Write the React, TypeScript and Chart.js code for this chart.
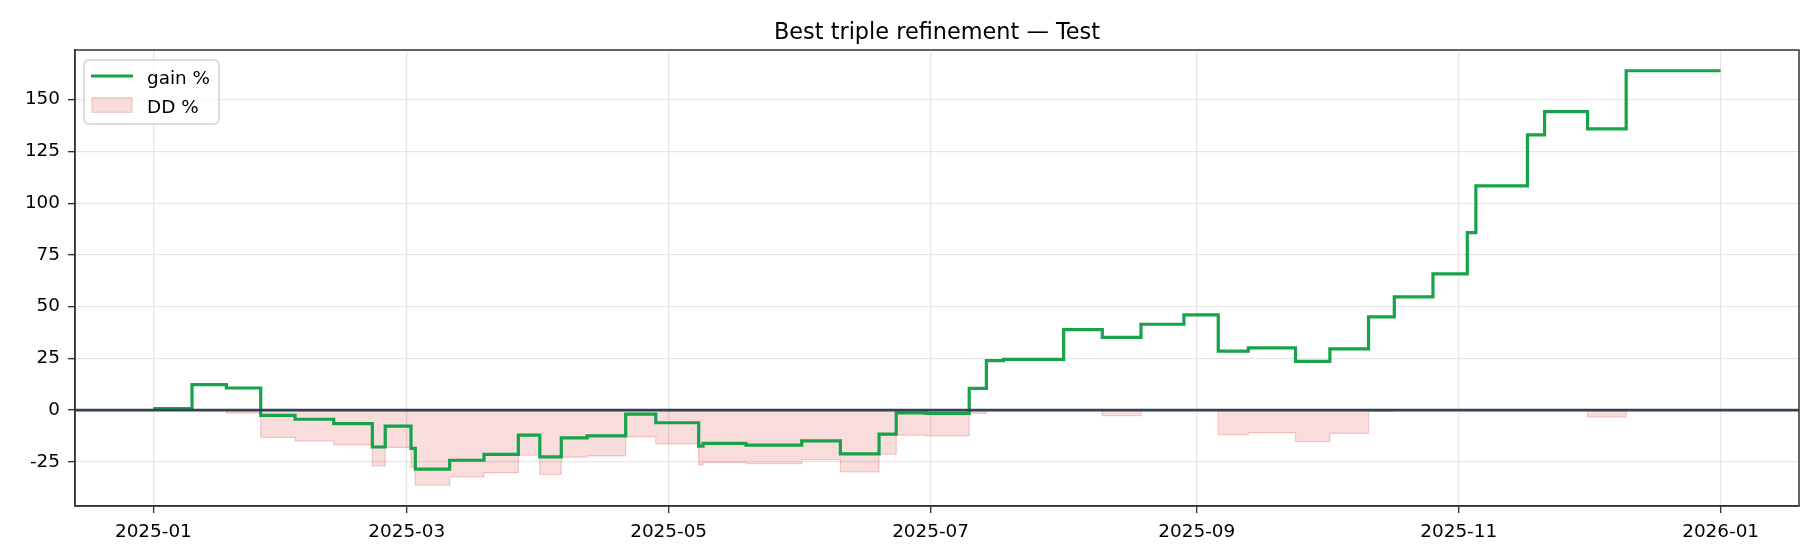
import React, { useEffect, useRef } from "react";
import { Chart, registerables } from "chart.js";

Chart.register(...registerables);

// step dates where gain / drawdown change (values hold until the next date)
const changeDates = [
  "2025-01-01", "2025-01-10", "2025-01-18", "2025-01-26", "2025-02-03", "2025-02-12",
  "2025-02-21", "2025-02-24", "2025-03-02", "2025-03-03", "2025-03-11", "2025-03-19",
  "2025-03-27", "2025-04-01", "2025-04-06", "2025-04-12", "2025-04-21", "2025-04-28",
  "2025-05-08", "2025-05-09", "2025-05-19", "2025-06-01", "2025-06-10", "2025-06-19",
  "2025-06-23", "2025-06-30", "2025-07-10", "2025-07-14", "2025-07-18", "2025-08-01",
  "2025-08-10", "2025-08-19", "2025-08-29", "2025-09-06", "2025-09-13", "2025-09-24",
  "2025-10-02", "2025-10-11", "2025-10-17", "2025-10-26", "2025-11-03", "2025-11-05",
  "2025-11-17", "2025-11-21", "2025-12-01", "2025-12-10", "2026-01-01",
];

const gainValues = [
  0.8, 12.3, 10.7, -2.5, -4.4, -6.5,
  -17.8, -7.7, -18.5, -28.5, -24.2, -21.4,
  -12.1, -22.6, -13.4, -12.4, -1.9, -6.1,
  -17.4, -16.1, -16.9, -14.8, -21.1, -11.6,
  -1.3, -1.6, 10.5, 23.9, 24.5, 38.9,
  35.2, 41.5, 46.0, 28.5, 30.1, 23.6,
  29.6, 45.1, 54.7, 65.8, 85.8, 108.4,
  133.0, 144.2, 135.9, 164.0, 164.0,
];

const ddValues = [
  0, 0, -1.4, -13.2, -14.9, -16.7,
  -26.9, -18.0, -27.7, -36.3, -32.2, -30.2,
  -21.8, -31.1, -22.7, -22.1, -12.8, -16.3,
  -26.4, -25.2, -25.9, -23.9, -29.8, -21.3,
  -12.1, -12.4, -1.6, 0, 0, 0,
  -2.7, 0, 0, -11.8, -10.9, -15.2,
  -11.2, -0.6, 0, 0, 0, 0,
  0, 0, -3.3, 0, 0,
];

const tickLabels = ["2025-01", "2025-03", "2025-05", "2025-07", "2025-09", "2025-11", "2026-01"];

const titleText = "Best triple refinement — Test";
const gainColor = "#16a34a";
const ddFill = "rgba(220, 38, 38, 0.16)";
const ddEdge = "rgba(220, 38, 38, 0.22)";
const font = "'DejaVu Sans', sans-serif";
const tickSize = 18.4;

const dayOf = (s: string) => {
  const y = +s.slice(0, 4);
  const m = +s.slice(5, 7) - 1;
  const d = s.length > 7 ? +s.slice(8, 10) : 1;
  return (Date.UTC(y, m, d) - Date.UTC(2025, 0, 1)) / 86400000;
};

const extras = {
  id: "mplExtras",
  afterDatasetsDraw(chart: any) {
    const { ctx, chartArea: a, scales } = chart;
    const y0 = scales.y.getPixelForValue(0);
    ctx.save();
    ctx.strokeStyle = "#334155";
    ctx.lineWidth = 2.6;
    ctx.beginPath();
    ctx.moveTo(a.left, y0);
    ctx.lineTo(a.right, y0);
    ctx.stroke();
    ctx.restore();
  },
  afterDraw(chart: any) {
    const { ctx, chartArea: a } = chart;
    ctx.save();
    // frame
    ctx.strokeStyle = "#333";
    ctx.lineWidth = 1.5;
    ctx.strokeRect(a.left, a.top, a.right - a.left, a.bottom - a.top);

    // legend
    const lx = a.left + 9;
    const ly = a.top + 10;
    const w = 135;
    const h = 64;
    const r = 5;
    ctx.beginPath();
    ctx.moveTo(lx + r, ly);
    ctx.arcTo(lx + w, ly, lx + w, ly + h, r);
    ctx.arcTo(lx + w, ly + h, lx, ly + h, r);
    ctx.arcTo(lx, ly + h, lx, ly, r);
    ctx.arcTo(lx, ly, lx + w, ly, r);
    ctx.closePath();
    ctx.fillStyle = "rgba(255,255,255,0.8)";
    ctx.fill();
    ctx.strokeStyle = "#d0d0d0";
    ctx.lineWidth = 1.4;
    ctx.stroke();

    const ds = chart.data.datasets;
    ctx.strokeStyle = gainColor;
    ctx.lineWidth = 3.2;
    ctx.beginPath();
    ctx.moveTo(a.left + 16, a.top + 26);
    ctx.lineTo(a.left + 58, a.top + 26);
    ctx.stroke();

    ctx.fillStyle = ddFill;
    ctx.fillRect(a.left + 17, a.top + 47.7, 40, 14.6);
    ctx.strokeStyle = ddEdge;
    ctx.lineWidth = 1.2;
    ctx.strokeRect(a.left + 17, a.top + 47.7, 40, 14.6);

    ctx.fillStyle = "#000";
    ctx.font = `${tickSize}px ${font}`;
    ctx.textAlign = "left";
    ctx.textBaseline = "alphabetic";
    ctx.fillText(ds[0].label, a.left + 72, a.top + 33.5);
    ctx.fillText(ds[1].label, a.left + 72, a.top + 62.5);

    // title
    ctx.font = `22.4px ${font}`;
    ctx.textAlign = "center";
    ctx.fillText(titleText, (a.left + a.right) / 2, 38.7);
    ctx.restore();
  },
};

const App = () => {
  const chartRef = useRef<HTMLCanvasElement | null>(null);

  useEffect(() => {
    if (!chartRef.current) return;

    const xs = changeDates.map(dayOf);
    const xSpan = xs[xs.length - 1] - xs[0];
    const allY = [...gainValues, ...ddValues];
    const yMin = Math.min(...allY);
    const yMax = Math.max(...allY);
    const ySpan = yMax - yMin;

    const chart = new Chart(chartRef.current, {
      type: "line",
      data: {
        datasets: [
          {
            label: "gain %",
            data: xs.map((x, i) => ({ x, y: gainValues[i] })),
            borderColor: gainColor,
            borderWidth: 3.2,
            pointRadius: 0,
            stepped: "before",
            fill: false,
          },
          {
            label: "DD %",
            data: xs.map((x, i) => ({ x, y: ddValues[i] })),
            borderColor: ddEdge,
            backgroundColor: ddFill,
            borderWidth: 1.2,
            pointRadius: 0,
            stepped: "before",
            fill: "origin",
          },
        ],
      },
      plugins: [extras],
      options: {
        animation: false,
        responsive: true,
        maintainAspectRatio: false,
        devicePixelRatio: 1,
        layout: { padding: { top: 50, right: 21, bottom: 0, left: 0 } },
        plugins: {
          legend: { display: false },
          title: { display: false },
          tooltip: { enabled: false },
        },
        scales: {
          x: {
            type: "linear",
            min: xs[0] - 0.05 * xSpan,
            max: xs[xs.length - 1] + 0.05 * xSpan,
            afterBuildTicks: (scale: any) => {
              scale.ticks = tickLabels.map((l) => ({ value: dayOf(l) }));
            },
            afterFit: (scale: any) => {
              scale.height = 54;
            },
            ticks: {
              autoSkip: false,
              maxRotation: 0,
              padding: 8,
              color: "#000",
              font: { family: font, size: tickSize },
              callback: (_v: any, i: number) => tickLabels[i],
            },
            grid: {
              color: "#e6e6e6",
              lineWidth: 1.3,
              tickColor: "#333",
              tickLength: 7,
              tickWidth: 1.4,
            },
            border: { color: "#333", width: 1.5 },
          },
          y: {
            min: yMin - 0.05 * ySpan,
            max: yMax + 0.05 * ySpan,
            afterFit: (scale: any) => {
              scale.width = 75;
            },
            ticks: {
              stepSize: 25,
              includeBounds: false,
              padding: 8,
              color: "#000",
              font: { family: font, size: tickSize },
            },
            grid: {
              color: "#e6e6e6",
              lineWidth: 1.3,
              tickColor: "#333",
              tickLength: 7,
              tickWidth: 1.4,
            },
            border: { color: "#333", width: 1.5 },
          },
        },
      },
    });

    return () => {
      chart.destroy();
    };
  }, []);

  return (
    <div style={{ position: "fixed", left: 0, top: 0, width: 1820, height: 560, background: "#fff" }}>
      <canvas ref={chartRef}></canvas>
    </div>
  );
};

export default App;
